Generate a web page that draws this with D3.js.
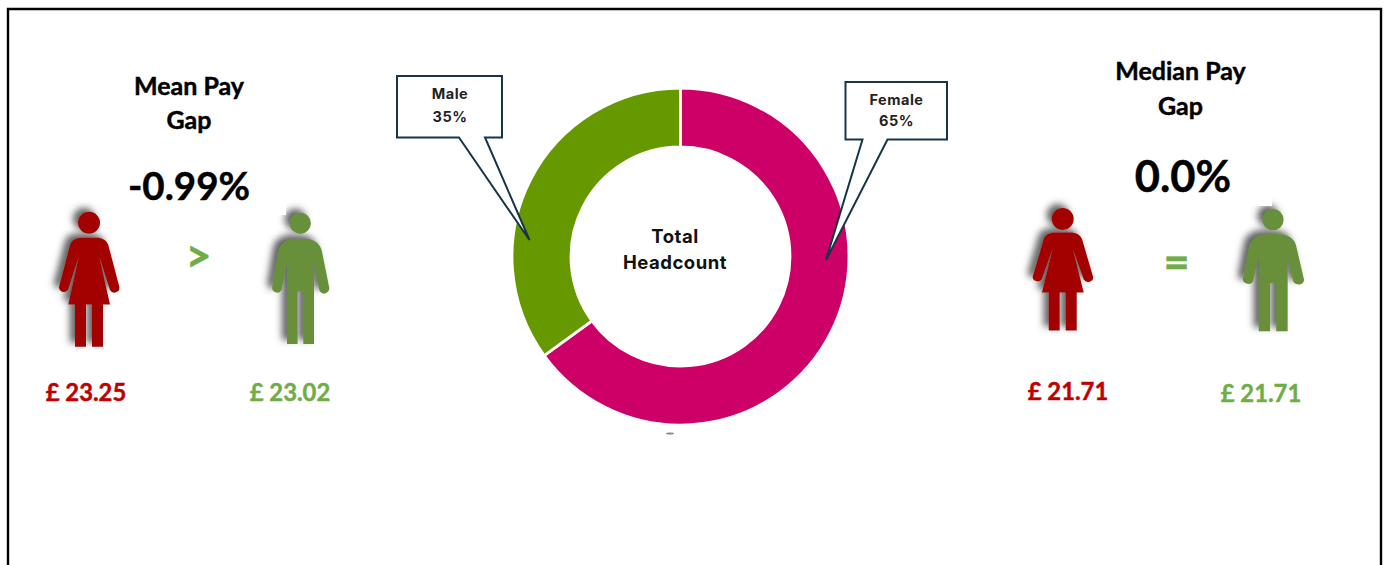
<!DOCTYPE html>
<html>
<head>
<meta charset="utf-8">
<script src="https://cdn.jsdelivr.net/npm/d3@7"></script>
<style>
html, body { margin: 0; padding: 0; background: #fff; overflow: hidden; }
svg { display: block; }
text { text-anchor: middle; }
.calibri { font-family: Lato, "Open Sans", sans-serif; font-weight: 700; stroke: currentColor; stroke-width: 0.45px; }
.aptos { font-family: Inter, "Noto Sans", sans-serif; font-weight: 700; letter-spacing: 0.5px; }
</style>
</head>
<body>
<svg id="chart" width="1386" height="565"></svg>
<script>
// Headcount split
const genders = ["Female", "Male"];
const headcountShare = [65, 35];
const genderColours = ["#CC0066", "#669900"];

// Pay gap panels
const panelTitles = [["Mean Pay", "Gap"], ["Median Pay", "Gap"]];
const gapLabels = ["-0.99%", "0.0%"];
const femalePay = [23.25, 21.71];
const malePay = [23.02, 21.71];
const comparators = [">", "="];

const svg = d3.select("#chart");

// Soft shadow thrown up and to the left of each figure
const defs = svg.append("defs");
defs.append("filter")
  .attr("id", "figureShadow")
  .attr("x", "-40%").attr("y", "-30%").attr("width", "180%").attr("height", "160%")
  .append("feDropShadow")
  .attr("dx", -5).attr("dy", -4).attr("stdDeviation", 3.5)
  .attr("flood-color", "#444").attr("flood-opacity", 0.85);

// Outer frame: left, top and right edges, running off the bottom of the page
svg.append("path")
  .attr("d", "M8,565V9H1381V565")
  .attr("fill", "none").attr("stroke", "#000").attr("stroke-width", 2.4);

// Pictogram outlines, relative to the centre of the head
const outlines = {
  female: sc => {
    const p = (x, y) => `${x * sc[0]},${y * sc[1]}`;
    return `M${p(-9, 15)}L${p(9.3, 15)}Q${p(17, 15.7)} ${p(19.3, 22.3)}L${p(30.3, 64)}
      A${5 * sc[0]},${5 * sc[1]} 0 0 1 ${p(21, 67.3)}L${p(10.3, 34)}L${p(21, 81.7)}L${p(14, 81.7)}
      L${p(14, 124)}L${p(3, 124)}L${p(3, 81.7)}L${p(-3, 81.7)}L${p(-3, 124)}L${p(-14, 124)}
      L${p(-14, 81.7)}L${p(-20.7, 81.7)}L${p(-10.3, 34)}L${p(-21, 67.3)}
      A${5 * sc[0]},${5 * sc[1]} 0 0 1 ${p(-30, 64)}L${p(-19, 22.3)}Q${p(-17, 15.7)} ${p(-9, 15)}Z`;
  },
  male: sc => {
    const p = (x, y) => `${x * sc[0]},${y * sc[1]}`;
    return `M${p(-8.7, 15.7)}L${p(9, 15.7)}Q${p(19, 18.3)} ${p(21.3, 26.7)}L${p(28.7, 63.3)}
      A${5 * sc[0]},${5 * sc[1]} 0 0 1 ${p(19, 66.7)}L${p(13.7, 40)}L${p(13.7, 120.7)}L${p(3, 120.7)}
      L${p(3, 68.3)}L${p(-2.7, 68.3)}L${p(-2.7, 120.7)}L${p(-13.3, 120.7)}L${p(-13.3, 40)}
      L${p(-18.7, 66.7)}A${5 * sc[0]},${5 * sc[1]} 0 0 1 ${p(-28, 63.3)}L${p(-22, 26.7)}
      Q${p(-19, 18.3)} ${p(-8.7, 15.7)}Z`;
  }
};

function drawFigure(kind, x, y, sc, headR, colour) {
  const g = svg.append("g")
    .attr("transform", `translate(${x},${y})`)
    .attr("filter", "url(#figureShadow)")
    .attr("fill", colour);
  g.append("circle").attr("r", headR);
  g.append("path").attr("d", outlines[kind](sc));
}

// Layout for the two pay gap panels
const panels = [
  {
    titleX: 189, titleY: [95, 129], gapX: 189, gapY: 200, gapSize: 38.5,
    mask: [110, 160, 176, 55],
    female: { x: 89, y: 222.7, sc: [1, 1] }, male: { x: 300.3, y: 223.3, sc: [1, 1] },
    fx: 86, fy: 401, mx: 290, my: 401,
    cx: 198.5, cy: 272, cSize: 45
  },
  {
    titleX: 1180.5, titleY: [80, 115], gapX: 1183, gapY: 192, gapSize: 43.5,
    mask: [1105, 150, 167, 56],
    female: { x: 1062.7, y: 219, sc: [1, 0.9] }, male: { x: 1273, y: 219.7, sc: [1.07, 0.925] },
    fx: 1068, fy: 400, mx: 1261, my: 402,
    cx: 1176.5, cy: 278, cSize: 45
  }
];

const gbp = d3.format(".2f");

panels.forEach((pn, i) => {
  drawFigure("female", pn.female.x, pn.female.y, pn.female.sc, 11, "#A30000");
  drawFigure("male", pn.male.x, pn.male.y, pn.male.sc, 10.6, "#67903A");

  // Text boxes sit over the figures and trim their shadows
  svg.append("rect")
    .attr("x", pn.mask[0]).attr("y", pn.mask[1])
    .attr("width", pn.mask[2]).attr("height", pn.mask[3])
    .attr("fill", "#fff");

  panelTitles[i].forEach((line, j) => {
    svg.append("text").attr("class", "calibri")
      .attr("x", pn.titleX).attr("y", pn.titleY[j])
      .attr("font-size", 25).style("color", "#000").attr("fill", "#000")
      .text(line);
  });

  svg.append("text").attr("class", "calibri")
    .attr("x", pn.gapX).attr("y", pn.gapY)
    .attr("font-size", pn.gapSize).style("color", "#000").attr("fill", "#000")
    .text(gapLabels[i]);

  svg.append("text").attr("class", "calibri")
    .attr("x", pn.cx).attr("y", pn.cy)
    .attr("font-size", pn.cSize).style("color", "#70AD47").attr("fill", "#70AD47")
    .text(comparators[i]);

  svg.append("text").attr("class", "calibri")
    .attr("x", pn.fx).attr("y", pn.fy)
    .attr("font-size", 23.8).style("color", "#C00000").attr("fill", "#C00000")
    .text(`£ ${gbp(femalePay[i])}`);

  svg.append("text").attr("class", "calibri")
    .attr("x", pn.mx).attr("y", pn.my)
    .attr("font-size", 23.8).style("color", "#70AD47").attr("fill", "#70AD47")
    .text(`£ ${gbp(malePay[i])}`);
});

// Headcount donut
const pie = d3.pie().sort(null).value(d => d);
const arc = d3.arc().innerRadius(109.5).outerRadius(168.5);
const donut = svg.append("g").attr("transform", "translate(680.5,256.5)");

donut.selectAll("path")
  .data(pie(headcountShare))
  .join("path")
  .attr("d", arc)
  .attr("fill", (d, i) => genderColours[i])
  .attr("stroke", "#fff")
  .attr("stroke-width", 2.8);

svg.append("text").attr("class", "aptos")
  .attr("x", 675).attr("y", 243)
  .attr("font-size", 18.5).attr("fill", "#111")
  .text("Total");
svg.append("text").attr("class", "aptos")
  .attr("x", 675).attr("y", 269)
  .attr("font-size", 18.5).attr("fill", "#111")
  .text("Headcount");

// Small stray mark beneath the ring
svg.append("ellipse")
  .attr("cx", 670).attr("cy", 433.5).attr("rx", 4).attr("ry", 1)
  .attr("fill", "#888");

// Callouts naming each donut segment
const callouts = [
  { index: 1, box: [397, 76, 502, 137.5], base: [459, 485], tip: [529.5, 240], textX: 450, textY: [99, 121.5] },
  { index: 0, box: [845.5, 82, 947, 139.5], base: [862.5, 887.5], tip: [826, 260], textX: 896.5, textY: [104.5, 125.5] }
];

callouts.forEach(c => {
  const [x0, y0, x1, y1] = c.box;
  svg.append("path")
    .attr("d", `M${x0},${y0}H${x1}V${y1}H${c.base[1]}L${c.tip[0]},${c.tip[1]}L${c.base[0]},${y1}H${x0}Z`)
    .attr("fill", "#fff")
    .attr("stroke", "#163548")
    .attr("stroke-width", 2)
    .attr("stroke-linejoin", "miter")
    .attr("stroke-miterlimit", 4);
  [genders[c.index], `${headcountShare[c.index]}%`].forEach((line, j) => {
    svg.append("text").attr("class", "aptos")
      .attr("x", c.textX).attr("y", c.textY[j])
      .attr("font-size", 14.5).attr("fill", "#222")
      .text(line);
  });
});
</script>
</body>
</html>
